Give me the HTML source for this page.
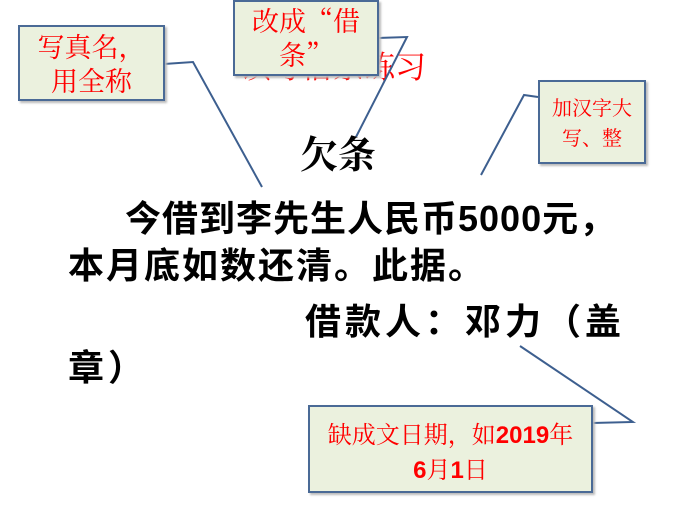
<!DOCTYPE html>
<html><head><meta charset="utf-8"><style>
body{margin:0;width:680px;height:510px;background:#fff;position:relative;overflow:hidden;font-family:"Liberation Sans","Noto Sans CJK SC",sans-serif}
.t{position:absolute;white-space:nowrap;color:#000;font-weight:bold}
.box{position:absolute;background:#ebf1de;border:2px solid #4a6a96;color:#f00;box-sizing:border-box;text-align:center;box-shadow:2px 2px 2px #bbb;font-family:"Noto Serif CJK SC",serif}
.box b{font-family:"Liberation Sans",sans-serif}
</style></head><body>
<div class="t" style="left:240px;top:42px;font-size:31px;color:#f00;font-weight:normal;font-family:'Noto Serif CJK SC',serif">读写借条练习</div>
<svg width="680" height="510" style="position:absolute;left:0;top:0">
<g stroke="#3d5f8f" stroke-width="2" fill="none">
<polyline points="164,64 193,62 262,187"/>
<polyline points="378,38 407,37 356,137"/>
<polyline points="538,97 524,95 481,175"/>
<polyline points="592,423 633,422 520,346"/>
</g></svg>
<div class="box" style="left:18px;top:25px;width:147px;height:76px;font-size:27px;line-height:34px;padding-top:2px">写真名，<br>用全称</div>
<div class="box" style="left:233px;top:0px;width:146px;height:76px;font-size:27px;line-height:34px;padding-top:1px">改成“借<br>条”</div>
<div class="box" style="left:538px;top:80px;width:108px;height:84px;font-size:20px;line-height:30px;padding-top:10px">加汉字大<br>写、整</div>
<div class="box" style="left:308px;top:405px;width:285px;height:88px;font-size:24px;line-height:32px;padding-top:10px">缺成文日期，如<b>2019</b>年<br><b>6</b>月<b>1</b>日</div>
<div class="t" style="left:300px;top:124px;font-size:38px;font-family:'Liberation Serif','Noto Serif CJK SC',serif">欠条</div>
<div class="t" style="left:125px;top:190px;font-size:36px;letter-spacing:1px">今借到李先生人民币5000元，</div>
<div class="t" style="left:68px;top:237px;font-size:36px;letter-spacing:2px">本月底如数还清。此据。</div>
<div class="t" style="left:305px;top:293px;font-size:36px;letter-spacing:4px">借款人：邓力（盖</div>
<div class="t" style="left:68px;top:339px;font-size:36px;letter-spacing:4px">章）</div>
</body></html>
